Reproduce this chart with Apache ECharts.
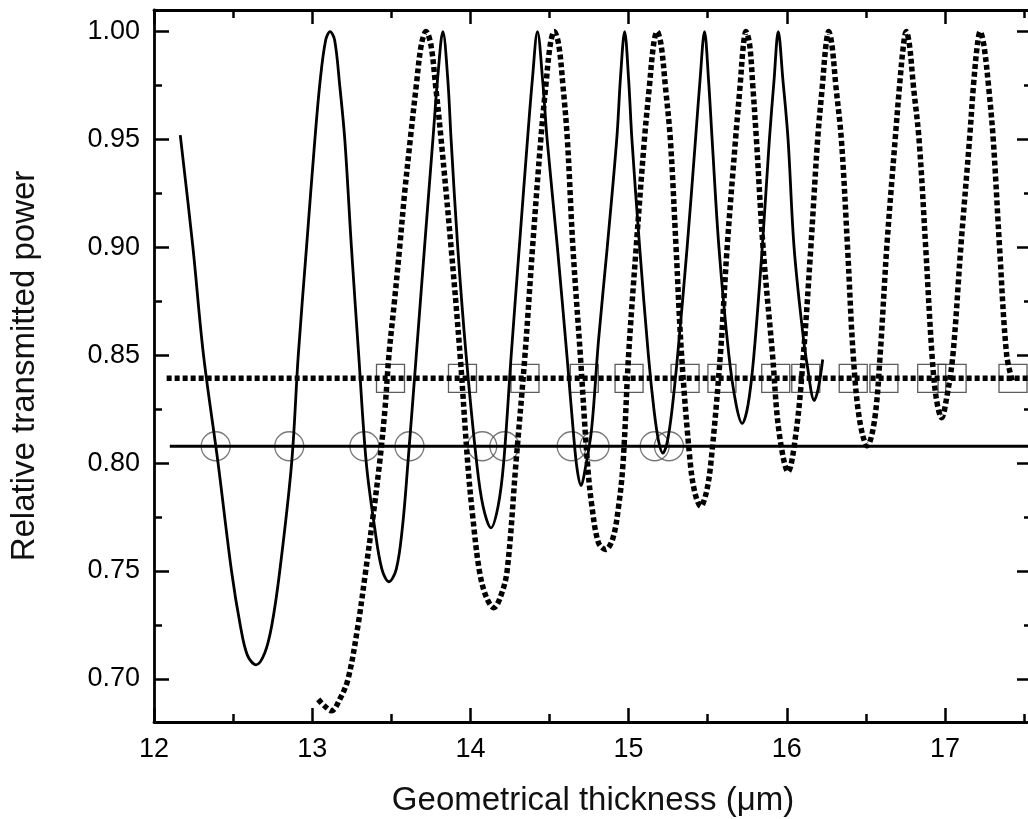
<!DOCTYPE html>
<html><head><meta charset="utf-8">
<script src="https://cdn.jsdelivr.net/npm/echarts@6/dist/echarts.min.js"></script>
<style>html,body{margin:0;padding:0;background:#fff}#c{width:1028px;height:819px}</style>
</head><body><div id="c"></div><script>
// ---- data ----
const xMajorTicks = [12, 13, 14, 15, 16, 17];
const xMinorTicks = [12.5, 13.5, 14.5, 15.5, 16.5, 17.5];
const yMajorTicks = [0.70, 0.75, 0.80, 0.85, 0.90, 0.95, 1.00];
const yMinorTicks = [0.725, 0.775, 0.825, 0.875, 0.925, 0.975];

const solidCurve = [
 [12.166,0.952],[12.246,0.900],[12.313,0.850],[12.405,0.800],[12.49,0.750],[12.545,0.725],[12.59,0.711],[12.645,0.7065],
 [12.70,0.712],[12.745,0.725],[12.795,0.750],[12.87,0.800],[12.912,0.850],[12.964,0.900],[13.017,0.950],[13.05,0.977],
 [13.085,0.996],[13.113,1.000],[13.142,0.996],[13.174,0.975],[13.206,0.950],[13.248,0.900],[13.294,0.850],[13.342,0.800],
 [13.395,0.770],[13.44,0.751],[13.485,0.745],[13.532,0.751],[13.57,0.770],[13.605,0.800],[13.658,0.850],[13.71,0.900],
 [13.763,0.950],[13.795,0.980],[13.826,1.000],[13.857,0.978],[13.878,0.950],[13.92,0.900],[13.973,0.850],[14.04,0.800],
 [14.08,0.780],[14.13,0.770],[14.175,0.780],[14.21,0.800],[14.258,0.850],[14.309,0.900],[14.361,0.950],[14.392,0.978],
 [14.424,1.000],[14.456,0.978],[14.485,0.950],[14.55,0.900],[14.61,0.850],[14.65,0.815],[14.675,0.797],[14.70,0.7896],
 [14.725,0.797],[14.765,0.815],[14.81,0.857],[14.865,0.900],[14.925,0.950],[14.95,0.980],[14.975,1.000],[15.0,0.978],
 [15.021,0.950],[15.07,0.900],[15.125,0.850],[15.16,0.825],[15.19,0.810],[15.217,0.8046],[15.245,0.810],[15.275,0.825],
 [15.31,0.850],[15.37,0.900],[15.423,0.950],[15.452,0.978],[15.48,1.000],[15.505,0.978],[15.528,0.950],[15.571,0.900],
 [15.634,0.850],[15.68,0.827],[15.718,0.8184],[15.755,0.827],[15.792,0.850],[15.845,0.900],[15.89,0.950],[15.92,0.978],
 [15.946,1.000],[15.975,0.978],[16.008,0.950],[16.046,0.900],[16.10,0.861],[16.13,0.845],[16.174,0.829],[16.20,0.835],
 [16.227,0.848]
];

const dottedCurve = [
 [13.038,0.6905],[13.08,0.6873],[13.122,0.6852],[13.174,0.6905],[13.227,0.700],[13.29,0.725],[13.338,0.750],[13.384,0.775],
 [13.426,0.800],[13.46,0.825],[13.485,0.850],[13.52,0.875],[13.553,0.900],[13.584,0.925],[13.62,0.950],[13.658,0.975],
 [13.69,0.994],[13.72,1.000],[13.75,0.994],[13.78,0.975],[13.815,0.950],[13.878,0.900],[13.935,0.850],[13.983,0.800],
 [14.015,0.775],[14.057,0.750],[14.10,0.738],[14.148,0.733],[14.19,0.738],[14.232,0.750],[14.288,0.800],[14.345,0.850],
 [14.393,0.900],[14.445,0.950],[14.477,0.975],[14.505,0.994],[14.53,1.000],[14.558,0.994],[14.585,0.975],[14.613,0.950],
 [14.648,0.900],[14.695,0.850],[14.74,0.800],[14.768,0.780],[14.81,0.763],[14.855,0.760],[14.90,0.765],[14.937,0.780],
 [14.965,0.800],[15.00,0.850],[15.048,0.900],[15.10,0.950],[15.132,0.975],[15.158,0.994],[15.18,1.000],[15.205,0.994],
 [15.232,0.975],[15.264,0.950],[15.30,0.900],[15.335,0.850],[15.39,0.800],[15.42,0.786],[15.456,0.780],[15.49,0.786],
 [15.52,0.800],[15.58,0.850],[15.623,0.900],[15.676,0.950],[15.705,0.975],[15.726,0.994],[15.742,1.000],[15.765,0.994],
 [15.785,0.975],[15.808,0.950],[15.85,0.900],[15.91,0.850],[15.95,0.815],[16.008,0.796],[16.06,0.815],[16.105,0.850],
 [16.152,0.900],[16.195,0.950],[16.225,0.975],[16.248,0.994],[16.265,1.000],[16.285,0.994],[16.31,0.975],[16.345,0.950],
 [16.384,0.900],[16.42,0.850],[16.46,0.820],[16.509,0.808],[16.555,0.820],[16.59,0.850],[16.632,0.900],[16.685,0.950],
 [16.713,0.975],[16.738,0.994],[16.755,1.000],[16.775,0.994],[16.80,0.975],[16.836,0.950],[16.878,0.900],[16.918,0.850],
 [16.945,0.830],[16.979,0.821],[17.01,0.830],[17.05,0.850],[17.10,0.900],[17.155,0.950],[17.18,0.975],[17.205,0.994],
 [17.222,1.000],[17.245,0.994],[17.275,0.975],[17.305,0.950],[17.345,0.900],[17.39,0.850],[17.43,0.837]
];

const solidLevel = 0.8078;
const dottedLevel = 0.8393;
const solidLevelSpan = [12.10, 17.55];
const dottedLevelSpan = [12.08, 17.55];
const circleX = [12.39, 12.855, 13.33, 13.615, 14.075, 14.215, 14.64, 14.785, 15.165, 15.255];
const squareX = [13.495, 13.95, 14.345, 14.72, 15.003, 15.357, 15.59, 15.93, 16.12, 16.42, 16.614, 16.916, 17.045, 17.43];

// ---- chart ----
const FONT = '"Liberation Sans", Arial, sans-serif';
const X_MIN = 12, X_MAX = 17.55, Y_MIN = 0.68, Y_MAX = 1.01;

function xAxisDef(position, ticks, len, showLine, withLabels) {
  return {
    type: 'value', gridIndex: 0, position: position, min: X_MIN, max: X_MAX,
    axisLine: {show: showLine, onZero: false, lineStyle: {color: '#000', width: 2.8}},
    axisTick: {show: true, inside: true, length: len, customValues: ticks, lineStyle: {color: '#000', width: 2.5}},
    axisLabel: withLabels ? {show: true, customValues: ticks, fontSize: 27, fontFamily: FONT, color: '#000', margin: 14,
      formatter: v => String(v)} : {show: false},
    splitLine: {show: false},
    name: withLabels ? 'Geometrical thickness (\u03bcm)' : '',
    nameLocation: 'middle', nameGap: 62,
    nameTextStyle: {fontSize: 33, fontFamily: FONT, color: '#111'}
  };
}
function yAxisDef(position, ticks, len, showLine, withLabels) {
  return {
    type: 'value', gridIndex: 0, position: position, min: Y_MIN, max: Y_MAX,
    axisLine: {show: showLine, onZero: false, lineStyle: {color: '#000', width: 2.8}},
    axisTick: {show: true, inside: true, length: len, customValues: ticks, lineStyle: {color: '#000', width: 2.5}},
    axisLabel: withLabels ? {show: true, customValues: ticks, fontSize: 27, fontFamily: FONT, color: '#000', margin: 14,
      formatter: v => v.toFixed(2)} : {show: false},
    splitLine: {show: false},
    name: withLabels ? 'Relative transmitted power' : '',
    nameLocation: 'middle', nameGap: 113,
    nameTextStyle: {fontSize: 33, fontFamily: FONT, color: '#111'}
  };
}

const chart = echarts.init(document.getElementById('c'), null, {renderer: 'canvas'});
chart.setOption({
  animation: false,
  backgroundColor: '#fff',
  grid: {left: 154, right: -4, top: 10, bottom: 97, containLabel: false, outerBoundsMode: 'none'},
  xAxis: [
    xAxisDef('bottom', xMajorTicks, 14, true, true),
    xAxisDef('bottom', xMinorTicks, 8, false, false),
    xAxisDef('top', xMajorTicks, 14, true, false),
    xAxisDef('top', xMinorTicks, 8, false, false)
  ],
  yAxis: [
    yAxisDef('left', yMajorTicks, 15, true, true),
    yAxisDef('left', yMinorTicks, 8, false, false),
    yAxisDef('right', yMajorTicks, 15, true, false),
    yAxisDef('right', yMinorTicks, 8, false, false)
  ],
  series: [
    {type: 'line', data: solidCurve, xAxisIndex: 0, yAxisIndex: 0, smooth: 0.35, showSymbol: false, silent: true,
     lineStyle: {color: '#000', width: 2.8}},
    {type: 'line', data: dottedCurve, xAxisIndex: 0, yAxisIndex: 0, smooth: 0.35, showSymbol: false, silent: true,
     lineStyle: {color: '#000', width: 5.5, type: [5, 3], cap: 'butt'}},
    {type: 'line', data: solidLevelSpan.map(x => [x, solidLevel]), xAxisIndex: 0, yAxisIndex: 0, showSymbol: false, silent: true,
     lineStyle: {color: '#000', width: 3}},
    {type: 'line', data: dottedLevelSpan.map(x => [x, dottedLevel]), xAxisIndex: 0, yAxisIndex: 0, showSymbol: false, silent: true,
     lineStyle: {color: '#000', width: 5.5, type: [5, 3], cap: 'butt'}},
    {type: 'scatter', data: circleX.map(x => [x, solidLevel]), xAxisIndex: 0, yAxisIndex: 0, symbol: 'circle', symbolSize: 29, silent: true,
     itemStyle: {color: 'rgba(0,0,0,0)', borderColor: '#555', borderWidth: 1.3}},
    {type: 'scatter', data: squareX.map(x => [x, dottedLevel]), xAxisIndex: 0, yAxisIndex: 0, symbol: 'rect', symbolSize: 28, silent: true,
     itemStyle: {color: 'rgba(0,0,0,0)', borderColor: '#333', borderWidth: 1.3}}
  ]
});
</script></body></html>
